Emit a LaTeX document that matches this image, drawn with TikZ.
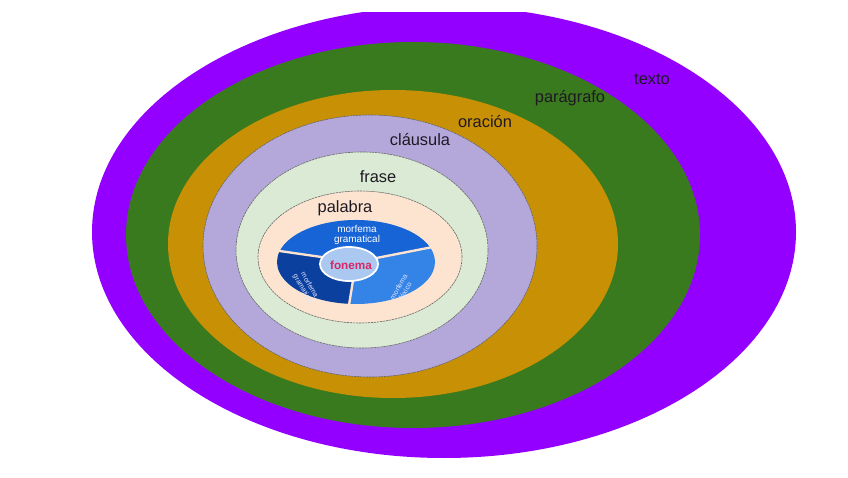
\documentclass[tikz,border=0pt]{standalone}
\usepackage{fontspec}
\setmainfont{Liberation Sans}
\usetikzlibrary{positioning}

\definecolor{texto}{RGB}{148,0,255}
\definecolor{parrafo}{RGB}{58,122,30}
\definecolor{oracion}{RGB}{200,144,4}
\definecolor{clausula}{RGB}{180,167,218}
\definecolor{frase}{RGB}{218,234,212}
\definecolor{palabra}{RGB}{253,228,208}
\definecolor{morftop}{RGB}{22,100,214}
\definecolor{morfleft}{RGB}{12,64,158}
\definecolor{morfright}{RGB}{52,132,232}
\definecolor{fonfill}{RGB}{170,200,240}
\definecolor{fonred}{RGB}{214,40,100}
\definecolor{lbltext}{RGB}{30,25,35}

\begin{document}
\begin{tikzpicture}[x=0.03cm,y=0.03cm,
    ring/.style={draw=gray!80!black, line width=0.5pt, dash pattern=on 2pt off 0.6pt},
    biglbl/.style={text=lbltext, font=\fontsize{14}{16}\selectfont},
    smalllbl/.style={text=white, align=center, inner sep=0pt, font=\fontsize{8.5}{9}\selectfont},
    tinylbl/.style={text=white!90!blue, align=center, inner sep=0pt, font=\fontsize{6}{6.5}\selectfont}]
  \useasboundingbox (0,0) rectangle (848,477);
  \begin{scope}
    \clip (0,0) rectangle (848,464);
    \fill[texto] (444,245) ellipse [x radius=352, y radius=226];
  \end{scope}
  \fill[parrafo] (413,242) ellipse [x radius=287, y radius=193];
  \fill[oracion] (393,233) ellipse [x radius=225, y radius=154];
  \filldraw[ring, fill=clausula] (370,231) ellipse [x radius=167, y radius=131];
  \filldraw[ring, fill=frase] (362,227) ellipse [x radius=126, y radius=98];
  \filldraw[ring, fill=palabra] (360,220) ellipse [x radius=102, y radius=66];

  % morfemas
  \fill[morftop] (356,215) -- ++(20:79 and 42) arc [start angle=20, end angle=165, x radius=79, y radius=42] -- cycle;
  \fill[morfleft] (356,215) -- ++(165:79 and 42) arc [start angle=165, end angle=265, x radius=79, y radius=42] -- cycle;
  \fill[morfright] (356,215) -- ++(265:79 and 42) arc [start angle=265, end angle=380, x radius=79, y radius=42] -- cycle;
  \foreach \a in {20,165,265}
    \draw[palabra, line width=2pt] (356,215) -- ++(\a:80 and 43);
  \filldraw[draw=white, fill=fonfill, line width=1.5pt] (349,213) ellipse [x radius=29, y radius=17];

  \node[biglbl] (ltexto) at (652,398) {texto};
  \node[biglbl] (lparrafo) at (570,379) {parágrafo};
  \node[biglbl] (loracion) at (485,355) {oración};
  \node[biglbl] (lclausula) at (420,337) {cláusula};
  \node[biglbl] (lfrase) at (378,300) {frase};
  \node[biglbl] (lpalabra) at (345,269) {palabra};
  \node[smalllbl] (lgram) at (357,242) {morfema\\gramatical};
  \node[tinylbl, rotate=-60] (lgram2) at (306,190) {morfema\\gramatical};
  \node[tinylbl, rotate=60] (llex) at (402,188) {morfema\\léxico};
  \node[text=fonred, inner sep=0pt, font=\bfseries\fontsize{10}{11}\selectfont] (lfonema) at (351,212) {fonema};
\end{tikzpicture}
\end{document}
